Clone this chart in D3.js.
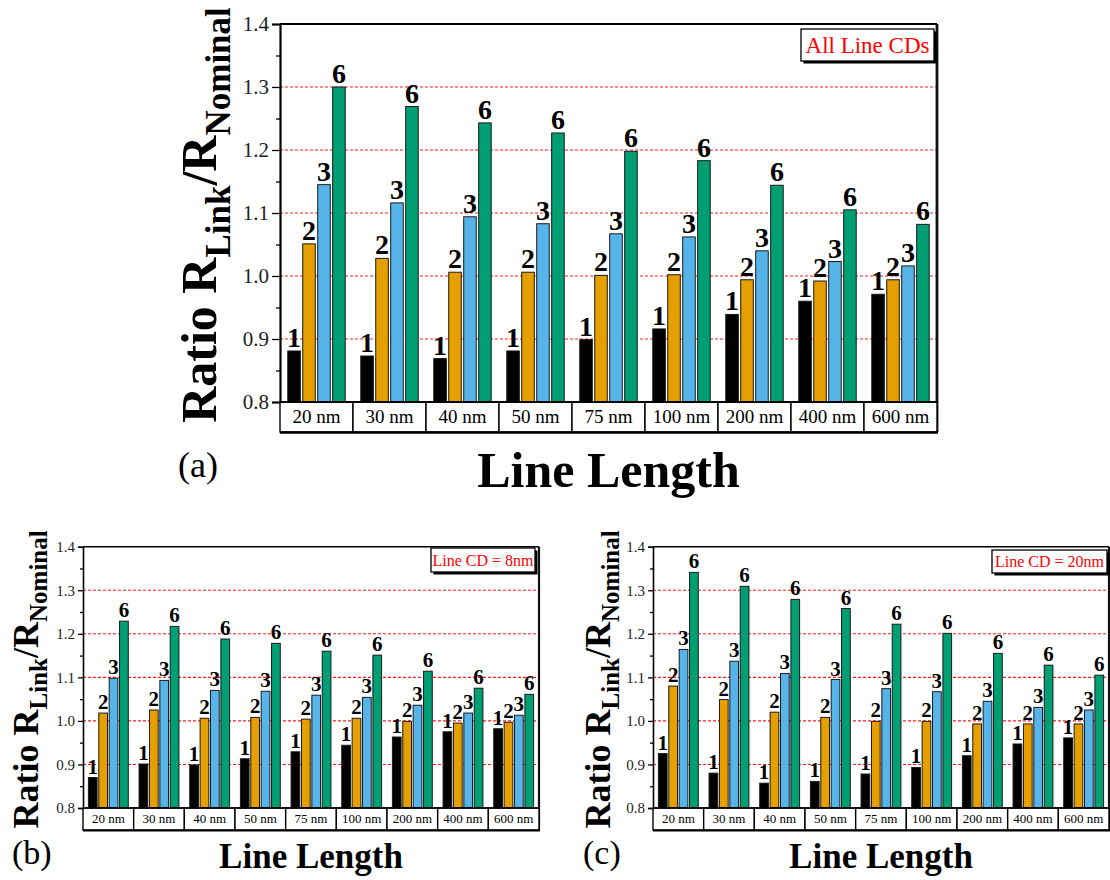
<!DOCTYPE html>
<html>
<head>
<meta charset="utf-8">
<script src="https://cdn.jsdelivr.net/npm/d3@7"></script>
<style>
  html, body { margin: 0; padding: 0; background: #fff; }
  svg { display: block; }
  text { font-family: "Liberation Serif", "Times New Roman", serif; }
</style>
</head>
<body>
<svg id="chart" width="1110" height="880"></svg>
<script>
// ---------------- DATA ----------------
const categories = ["20 nm", "30 nm", "40 nm", "50 nm", "75 nm", "100 nm", "200 nm", "400 nm", "600 nm"];
const seriesLabels = ["1", "2", "3", "6"];
const yTickValues = [0.8, 0.9, 1.0, 1.1, 1.2, 1.3, 1.4];
const minorTickValues = [0.85, 0.95, 1.05, 1.15, 1.25, 1.35];
const gridValues = [0.9, 1.0, 1.1, 1.2, 1.3];
const legendTexts = ["All Line CDs", "Line CD = 8nm", "Line CD = 20nm"];
const panelTags = ["(a)", "(b)", "(c)"];
const xTitle = "Line Length";

// (a) All line CDs
const allCD_1 = [0.881, 0.873, 0.869, 0.881, 0.899, 0.916, 0.939, 0.960, 0.971];
const allCD_2 = [1.051, 1.028, 1.006, 1.006, 1.001, 1.002, 0.994, 0.992, 0.994];
const allCD_3 = [1.145, 1.116, 1.094, 1.083, 1.067, 1.062, 1.040, 1.023, 1.016];
const allCD_6 = [1.300, 1.269, 1.243, 1.227, 1.198, 1.183, 1.144, 1.105, 1.082];

// (b) Line CD = 8nm
const cd8_1 = [0.870, 0.901, 0.899, 0.913, 0.929, 0.944, 0.963, 0.975, 0.982];
const cd8_2 = [1.018, 1.025, 1.006, 1.008, 1.004, 1.006, 0.999, 0.995, 0.997];
const cd8_3 = [1.098, 1.093, 1.070, 1.068, 1.059, 1.054, 1.036, 1.018, 1.013];
const cd8_6 = [1.229, 1.217, 1.188, 1.178, 1.160, 1.151, 1.114, 1.075, 1.061];

// (c) Line CD = 20nm
const cd20_1 = [0.925, 0.880, 0.857, 0.861, 0.878, 0.893, 0.920, 0.947, 0.961];
const cd20_2 = [1.080, 1.049, 1.020, 1.008, 0.999, 0.999, 0.993, 0.993, 0.993];
const cd20_3 = [1.164, 1.137, 1.109, 1.095, 1.074, 1.067, 1.045, 1.031, 1.025];
const cd20_6 = [1.341, 1.309, 1.279, 1.258, 1.222, 1.201, 1.155, 1.128, 1.105];

// ---------------- STYLE ----------------
const seriesColors = ["#000000", "#E69F00", "#56B4E9", "#009E73"];

const panels = [
  { series: [allCD_1, allCD_2, allCD_3, allCD_6], legend: legendTexts[0], tag: panelTags[0],
    left: 280, right: 937, top: 24, bottom: 402, labelBottom: 432,
    tickFont: 21, catFont: 19, numFont: 28, legFont: 23, titleFont: 50, subFont: 35,
    titleX: 216, subShift: 14, xTitleFont: 50, xTitleY: 487,
    tagFont: 36, tagX: 178, tagY: 477,
    legBox: [801, 29, 133, 32], legBase: 53, majorTick: 8, minorTick: 4, frameW: 2.2 },
  { series: [cd8_1, cd8_2, cd8_3, cd8_6], legend: legendTexts[1], tag: panelTags[1],
    left: 83, right: 539, top: 546.7, bottom: 808, labelBottom: 830,
    tickFont: 15, catFont: 13, numFont: 21, legFont: 16, titleFont: 36, subFont: 25,
    titleX: 38, subShift: 9, xTitleFont: 35, xTitleY: 868,
    tagFont: 34, tagX: 12, tagY: 864,
    legBox: [431, 548, 104, 24], legBase: 566, majorTick: 5, minorTick: 3, frameW: 1.6 },
  { series: [cd20_1, cd20_2, cd20_3, cd20_6], legend: legendTexts[2], tag: panelTags[2],
    left: 653, right: 1109, top: 546.7, bottom: 808, labelBottom: 830,
    tickFont: 15, catFont: 13, numFont: 21, legFont: 16, titleFont: 36, subFont: 25,
    titleX: 610, subShift: 9, xTitleFont: 35, xTitleY: 868,
    tagFont: 34, tagX: 583, tagY: 864,
    legBox: [992, 550, 115, 23], legBase: 567, majorTick: 5, minorTick: 3, frameW: 1.6 }
];

const svg = d3.select("#chart");

panels.forEach(p => {
  const g = svg.append("g");
  const y = d3.scaleLinear().domain([0.8, 1.4]).range([p.bottom, p.top]);
  const x = d3.scaleBand().domain(categories).range([p.left, p.right]).paddingInner(0).paddingOuter(0);
  const bw = x.bandwidth();
  const step = bw * 0.205;
  const barW = bw * 0.172;

  // grid
  g.append("g").selectAll("line").data(gridValues).join("line")
    .attr("x1", p.left).attr("x2", p.right)
    .attr("y1", d => y(d)).attr("y2", d => y(d))
    .attr("stroke", "#ff1a1a").attr("stroke-width", 1.1)
    .attr("stroke-dasharray", "3,2");

  // bars
  const flat = [];
  p.series.forEach((vals, si) => {
    vals.forEach((v, ci) => flat.push({ cat: categories[ci], si, v }));
  });
  const cx = d => x(d.cat) + bw / 2 + (d.si - 1.5) * step;
  g.append("g").selectAll("rect").data(flat).join("rect")
    .attr("x", d => cx(d) - barW / 2)
    .attr("y", d => y(d.v))
    .attr("width", barW)
    .attr("height", d => y(0.8) - y(d.v))
    .attr("fill", d => seriesColors[d.si])
    .attr("stroke", "#1a1a1a").attr("stroke-width", 1);

  // bar labels
  g.append("g").selectAll("text").data(flat).join("text")
    .attr("x", d => cx(d))
    .attr("y", d => y(d.v) - 4)
    .attr("text-anchor", "middle")
    .attr("font-weight", "bold")
    .attr("font-size", p.numFont)
    .attr("fill", "#000")
    .text(d => seriesLabels[d.si]);

  // frame: top and right
  g.append("line").attr("x1", p.left).attr("x2", p.right).attr("y1", p.top).attr("y2", p.top)
    .attr("stroke", "#000").attr("stroke-width", p.frameW);
  g.append("line").attr("x1", p.right).attr("x2", p.right).attr("y1", p.top).attr("y2", p.labelBottom)
    .attr("stroke", "#111").attr("stroke-width", p.frameW + 0.6);

  // y axis (major)
  const yAxis = d3.axisLeft(y).tickValues(yTickValues).tickFormat(d3.format(".1f"))
    .tickSize(p.majorTick).tickPadding(3);
  const ya = g.append("g").attr("transform", `translate(${p.left},0)`).call(yAxis);
  ya.select(".domain").attr("stroke", "#000").attr("stroke-width", p.frameW);
  ya.selectAll(".tick line").attr("stroke", "#000").attr("stroke-width", 1.3);
  ya.selectAll(".tick text").attr("font-size", p.tickFont)
    .attr("font-family", "Liberation Serif").attr("fill", "#222");
  // minor ticks
  const yMinor = d3.axisLeft(y).tickValues(minorTickValues).tickSize(p.minorTick).tickFormat("");
  const ym = g.append("g").attr("transform", `translate(${p.left},0)`).call(yMinor);
  ym.select(".domain").remove();
  ym.selectAll(".tick line").attr("stroke", "#000").attr("stroke-width", 1.3);

  // x label boxes
  g.append("g").selectAll("rect").data(categories).join("rect")
    .attr("x", d => x(d)).attr("y", p.bottom)
    .attr("width", bw).attr("height", p.labelBottom - p.bottom)
    .attr("fill", "#fff").attr("stroke", "#000").attr("stroke-width", 1.4);
  g.append("line").attr("x1", p.left).attr("x2", p.right + 1)
    .attr("y1", p.labelBottom + 0.5).attr("y2", p.labelBottom + 0.5)
    .attr("stroke", "#000").attr("stroke-width", p.frameW + 0.4);
  g.append("line").attr("x1", p.left).attr("x2", p.right)
    .attr("y1", p.bottom).attr("y2", p.bottom)
    .attr("stroke", "#000").attr("stroke-width", p.frameW);

  // x axis labels
  const xAxis = d3.axisBottom(x).tickSize(0).tickPadding(0);
  const xa = g.append("g").attr("transform", `translate(0,${(p.bottom + p.labelBottom) / 2})`).call(xAxis);
  xa.select(".domain").remove();
  xa.selectAll(".tick text").attr("font-size", p.catFont).attr("font-family", "Liberation Serif")
    .attr("fill", "#000").attr("dy", "0.33em").attr("y", 0);

  // legend box
  const [lx, ly, lw, lh] = p.legBox;
  g.append("rect").attr("x", lx + 2.5).attr("y", ly + 2.5).attr("width", lw).attr("height", lh).attr("fill", "#000");
  g.append("rect").attr("x", lx).attr("y", ly).attr("width", lw).attr("height", lh)
    .attr("fill", "#fff").attr("stroke", "#000").attr("stroke-width", 1.3);
  g.append("text").attr("x", lx + lw / 2).attr("y", p.legBase).attr("text-anchor", "middle")
    .attr("font-size", p.legFont).attr("fill", "#ff0000").text(p.legend);

  // y title
  const cy = (p.top + p.bottom) / 2 + 2;
  const yt = g.append("text")
    .attr("transform", `translate(${p.titleX},${cy}) rotate(-90)`)
    .attr("text-anchor", "middle").attr("font-weight", "bold").attr("font-size", p.titleFont).attr("fill", "#000");
  yt.append("tspan").text("Ratio R");
  yt.append("tspan").attr("font-size", p.subFont).attr("dy", p.subShift).text("Link");
  yt.append("tspan").attr("dy", -p.subShift).text("/R");
  yt.append("tspan").attr("font-size", p.subFont).attr("dy", p.subShift).text("Nominal");

  // x title
  g.append("text").attr("x", (p.left + p.right) / 2).attr("y", p.xTitleY)
    .attr("text-anchor", "middle").attr("font-weight", "bold").attr("font-size", p.xTitleFont)
    .attr("fill", "#000").text(xTitle);

  // panel tag
  g.append("text").attr("x", p.tagX).attr("y", p.tagY)
    .attr("font-size", p.tagFont).attr("fill", "#000").text(p.tag);
});
</script>
</body>
</html>
